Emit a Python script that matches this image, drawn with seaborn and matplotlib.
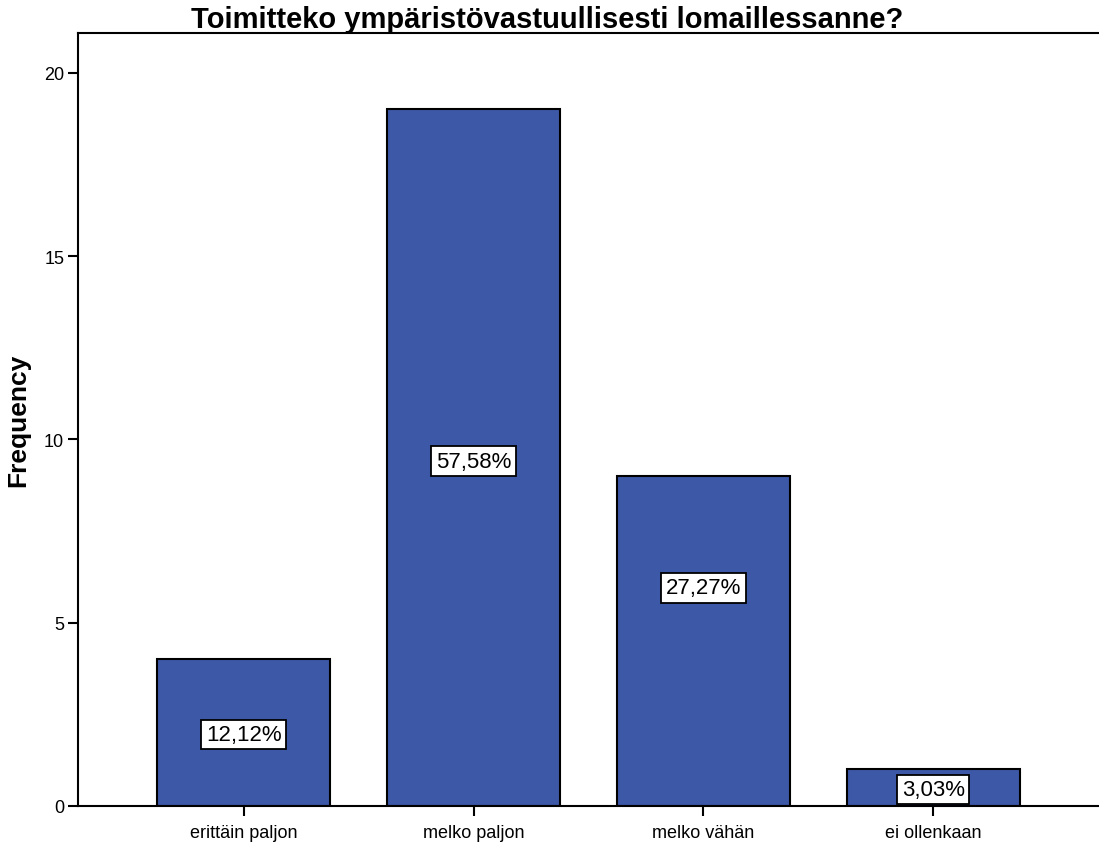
import matplotlib
matplotlib.use("Agg")
import matplotlib.pyplot as plt
import pandas as pd
import seaborn as sns

# ── Data ───────────────────────────────────────────────────────────────────────
categories = ["erittäin paljon", "melko paljon", "melko vähän", "ei ollenkaan"]
counts     = [4, 19, 9, 1]
pct_labels = ["12,12%", "57,58%", "27,27%", "3,03%"]
label_y    = [1.95, 9.4, 5.95, 0.45]

BAR_COLOR = "#3E58A8"

sns.set_theme(style="white")
plt.rcParams["font.family"] = ["Liberation Sans", "DejaVu Sans"]
plt.rcParams["text.color"] = "black"
plt.rcParams["axes.labelcolor"] = "black"

df = pd.DataFrame({"cat": categories, "n": counts})

fig = plt.figure(figsize=(10.99, 8.45), dpi=100)
ax = fig.add_axes([0.071, 0.045, 0.929, 0.915])

sns.barplot(data=df, x="cat", y="n", ax=ax, color=BAR_COLOR, saturation=1,
            width=0.75, edgecolor="black", linewidth=1.5)

for i, (txt, yy) in enumerate(zip(pct_labels, label_y)):
    ax.text(i, yy, txt, ha="center", va="center", fontsize=16, color="black",
            bbox=dict(boxstyle="square,pad=0.2", facecolor="white",
                      edgecolor="black", linewidth=1.3))

ax.set_xlim(-0.72, 3.72)
ax.set_ylim(0, 21.09)
ax.set_yticks([0, 5, 10, 15, 20])
ax.set_xlabel("")
ax.set_ylabel("Frequency", fontsize=19, fontweight="bold", labelpad=10,
              color="black")
ax.tick_params(axis="both", direction="out", length=7, width=1.5,
               colors="black", labelsize=13, bottom=True, left=True)
ax.tick_params(axis="x", pad=6)
ax.tick_params(axis="y", pad=3)
for side in ["left", "top", "bottom"]:
    ax.spines[side].set_color("black")
    ax.spines[side].set_linewidth(1.5)
ax.spines["right"].set_visible(False)

fig.text(0.498, 0.9665, "Toimitteko ympäristövastuullisesti lomaillessanne?",
         ha="center", va="baseline", fontsize=21, fontweight="bold",
         color="black")

fig.savefig("out.png", dpi=100, facecolor="white")
